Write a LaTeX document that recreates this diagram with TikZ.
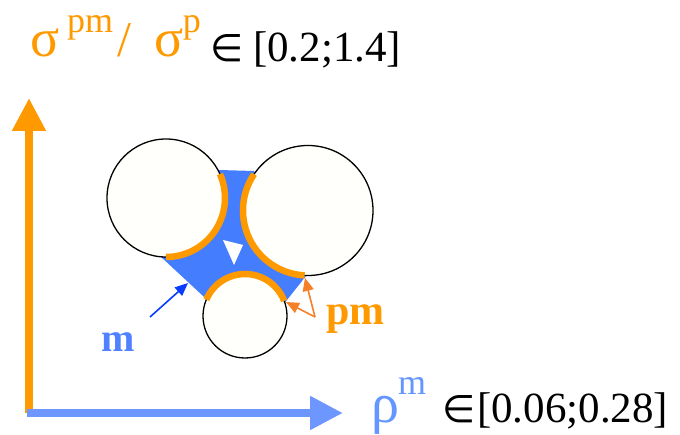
\documentclass[tikz,border=0pt]{standalone}
\usepackage{fontspec}
\setmainfont{Liberation Serif}
\newfontfamily\symfont{DejaVu Sans}
\usetikzlibrary{arrows.meta}
\definecolor{axorange}{RGB}{255,153,0}
\definecolor{axblue}{RGB}{110,150,255}
\definecolor{fillblue}{RGB}{68,126,255}
\definecolor{mblue}{RGB}{80,130,255}
\definecolor{rhoblue}{RGB}{100,150,255}
\definecolor{darrow}{RGB}{10,60,255}
\definecolor{pmorange}{RGB}{245,128,40}
\definecolor{offwhite}{RGB}{255,255,252}
\tikzset{
  grain/.style={circle, draw=black, line width=1.3pt, fill=offwhite, inner sep=0pt, outer sep=0pt, minimum size=#1},
  contact/.style={draw=axorange, line width=6.5pt},
  axisline/.style={line width=8pt, -{Triangle[length=33pt,width=32pt]}},
  smallarrow/.style={line width=1.6pt, -{Triangle[length=13pt,width=11pt]}},
  lbl/.style={inner sep=0pt, outer sep=0pt, anchor=base west},
}
\newcommand{\elemof}{{\symfont\fontsize{38}{38}\selectfont ∈}}
\begin{document}
\begin{tikzpicture}[x=1pt,y=1pt]
\useasboundingbox (0,0) rectangle (680,434);
% axes
\coordinate (O) at (29,21);
\coordinate (ytip) at (29,336);
\coordinate (xstart) at (27,21);
\coordinate (xtip) at (343,21);
\draw[axisline, draw=axorange, fill=axorange] (O) -- (ytip);
\draw[axisline, draw=axblue, fill=axblue] (xstart) -- (xtip);
% blue matrix region
\fill[fillblue] (219,264) -- (254,263) -- (306,158) -- (283,129) -- (209.5,132) -- (160,178) -- cycle;
% grains
\node[grain=118pt] (L) at (166,236) {};
\node[grain=130pt] (R) at (308,223.5) {};
\node[grain=84pt] (B) at (245,118) {};
% contact arcs
\draw[contact] (L.24) arc[start angle=24, end angle=-90, radius=59pt];
\draw[contact] (R.146) arc[start angle=146, end angle=267, radius=65pt];
\draw[contact] (B.157) arc[start angle=157, end angle=21, radius=42pt];
% white triangle
\fill[white] (223,194) -- (243,189) -- (234,169) -- cycle;
% pointer arrows
\coordinate (mtail) at (150,117);
\coordinate (mhead) at (188,151);
\draw[smallarrow, draw=darrow, fill=darrow] (mtail) -- (mhead);
\coordinate (pmtail) at (315,117);
\coordinate (pmheadA) at (305,156);
\coordinate (pmheadB) at (286,132);
\draw[smallarrow, draw=pmorange, fill=pmorange] (pmtail) -- (pmheadA);
\draw[smallarrow, draw=pmorange, fill=pmorange] (pmtail) -- (pmheadB);
% labels
\node[lbl, text=mblue, font=\fontsize{40}{40}\selectfont\bfseries] (mlabel) at (101,82) {m};
\node[lbl, text=axorange, font=\fontsize{42}{42}\selectfont\bfseries] (pmlabel) at (326,109) {pm};
\node[lbl, font=\fontsize{43}{43}\selectfont] (ylabel) at (30,372) {%
  {\color{axorange}\raisebox{5pt}{\makebox[37pt][l]{\fontsize{54}{54}\selectfont σ}%
  \makebox[50pt][l]{\raisebox{24pt}{\fontsize{36}{36}\selectfont pm}}%
  \makebox[38pt][l]{\fontsize{50}{50}\selectfont /}%
  \makebox[28pt][l]{\fontsize{54}{54}\selectfont σ}%
  \makebox[27pt][l]{\raisebox{24pt}{\fontsize{36}{36}\selectfont p}}}}%
  \makebox[43pt][l]{\elemof}[0.2;1.4]};
\node[lbl, font=\fontsize{43}{43}\selectfont] (xlabel) at (371,12) {%
  {\color{rhoblue}\makebox[27pt][l]{\fontsize{56}{56}\selectfont ρ}%
  \makebox[44pt][l]{\raisebox{28pt}{\fontsize{36}{36}\selectfont m}}}%
  \makebox[35pt][l]{\elemof}[0.06;0.28]};
\end{tikzpicture}
\end{document}
